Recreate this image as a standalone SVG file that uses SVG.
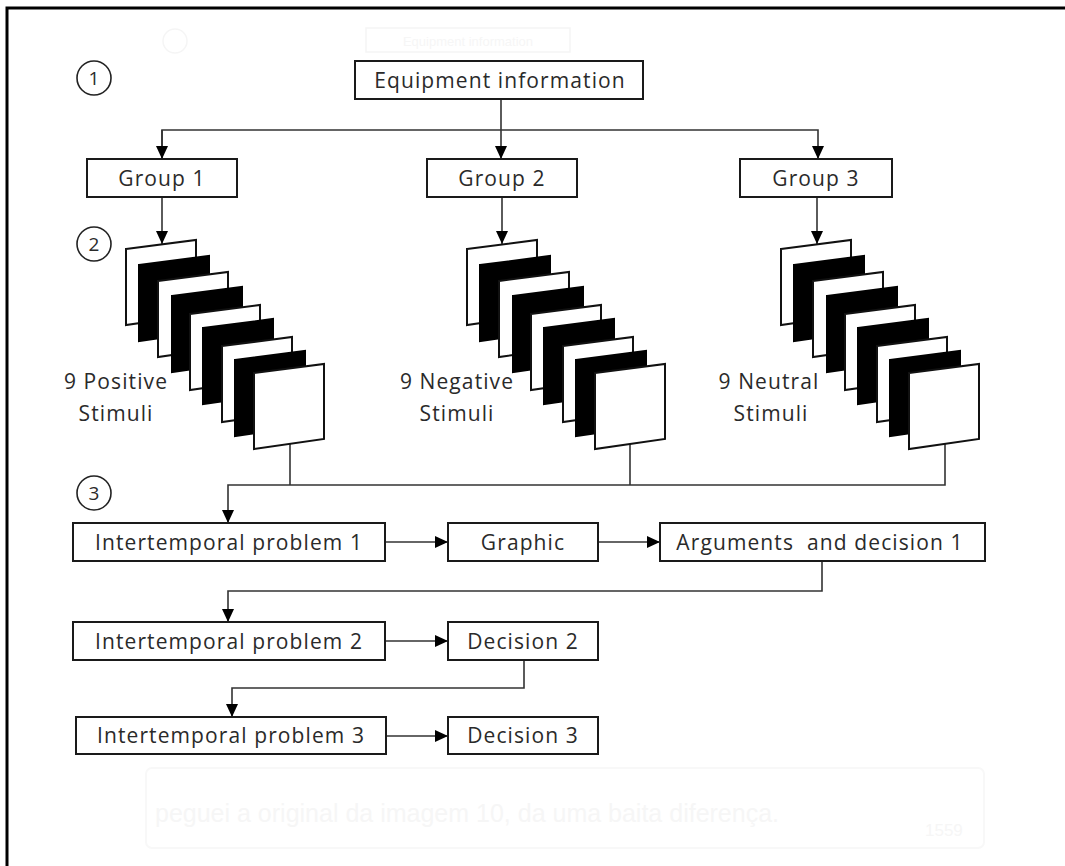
<svg xmlns="http://www.w3.org/2000/svg" width="1065" height="866" viewBox="0 0 1065 866">
<style>
.box{fill:#fff;stroke:#1a1a1a;stroke-width:2}
.lbl{font-family:"Open Sans","Noto Sans",sans-serif;font-size:21px;letter-spacing:1.1px;fill:#2a2a2a;text-anchor:middle}
.num{font-family:"Open Sans","Noto Sans",sans-serif;font-size:19px;fill:#2a2a2a;text-anchor:middle}
.ring{fill:#fff;stroke:#222;stroke-width:1.6}
.con{fill:none;stroke:#333;stroke-width:1.6}
.cw{fill:#fff;stroke:#111;stroke-width:2}
.cb{fill:#000;stroke:#000;stroke-width:2}
.ghost{font-family:"Liberation Sans",Arial,sans-serif;fill:#f6f6f6}
</style>
<defs>
<marker id="ah" markerUnits="userSpaceOnUse" markerWidth="14" markerHeight="12" refX="13" refY="6" orient="auto">
<path d="M0,0 L13,6 L0,12 Z" fill="#000"/>
</marker>
<path id="card" d="M0,0 L70,-9 L70,66 L0,76 Z"/>
<g id="stack">
<use href="#card" class="cw" x="126" y="249"/>
<use href="#card" class="cb" x="139" y="265"/>
<use href="#card" class="cw" x="158" y="281"/>
<use href="#card" class="cb" x="172" y="296"/>
<use href="#card" class="cw" x="190" y="314"/>
<use href="#card" class="cb" x="203" y="328"/>
<use href="#card" class="cw" x="222" y="346"/>
<use href="#card" class="cb" x="235" y="360"/>
<use href="#card" class="cw" x="254" y="373"/>
</g>
</defs>
<rect width="1065" height="866" fill="#fff"/>
<g id="ghost">
<rect x="146" y="768" width="838" height="80" rx="6" fill="none" stroke="#f8f8f8" stroke-width="2"/>
<text class="ghost" x="155" y="822" font-size="25">peguei a original da imagem 10, da uma baita diferença.</text>
<text class="ghost" x="925" y="836" font-size="17">1559</text>
<circle cx="175" cy="41" r="12" fill="none" stroke="#f5f5f5" stroke-width="1.5"/>
<rect x="366" y="28" width="204" height="24" fill="none" stroke="#f5f5f5" stroke-width="1.5"/>
<text class="ghost" x="468" y="46" font-size="13" text-anchor="middle">Equipment information</text>
</g>
<g id="frame">
<path d="M7,866 V8 H1065" fill="none" stroke="#000" stroke-width="3"/>
</g>
<g id="connectors">
<path class="con" d="M501,99 V159" marker-end="url(#ah)"/>
<path class="con" d="M162,159 V130 H818 V159" marker-end="url(#ah)"/>
<path class="con" d="M162,130 V159" marker-end="url(#ah)"/>
<path class="con" d="M162,197 V244" marker-end="url(#ah)"/>
<path class="con" d="M502,197 V244" marker-end="url(#ah)"/>
<path class="con" d="M817,197 V244" marker-end="url(#ah)"/>
<path class="con" d="M290,444 V485"/>
<path class="con" d="M630,444 V485"/>
<path class="con" d="M945,444 V485 H228 V523" marker-end="url(#ah)"/>
<path class="con" d="M385,542 H448" marker-end="url(#ah)"/>
<path class="con" d="M598,542 H660" marker-end="url(#ah)"/>
<path class="con" d="M822,561 V591 H228 V622" marker-end="url(#ah)"/>
<path class="con" d="M385,641 H448" marker-end="url(#ah)"/>
<path class="con" d="M524,660 V688 H232 V717" marker-end="url(#ah)"/>
<path class="con" d="M386,736 H448" marker-end="url(#ah)"/>
</g>
<g id="step1">
<circle class="ring" cx="94" cy="78" r="17"/>
<text class="num" x="94" y="85">1</text>
</g>
<g id="step2">
<circle class="ring" cx="94" cy="244" r="17"/>
<text class="num" x="94" y="251">2</text>
</g>
<g id="step3">
<circle class="ring" cx="94" cy="493" r="17"/>
<text class="num" x="94" y="500">3</text>
</g>
<g id="equipment">
<rect class="box" x="355" y="61" width="288" height="38"/>
<text class="lbl" x="500" y="88">Equipment information</text>
</g>
<g id="group1">
<rect class="box" x="87" y="159" width="150" height="38"/>
<text class="lbl" x="162" y="186">Group 1</text>
</g>
<g id="group2">
<rect class="box" x="427" y="159" width="150" height="38"/>
<text class="lbl" x="502" y="186">Group 2</text>
</g>
<g id="group3">
<rect class="box" x="740" y="159" width="152" height="38"/>
<text class="lbl" x="816" y="186">Group 3</text>
</g>
<g id="positive">
<use href="#stack"/>
<text class="lbl" x="116" y="389">9 Positive</text>
<text class="lbl" x="116" y="421">Stimuli</text>
</g>
<g id="negative">
<use href="#stack" x="341"/>
<text class="lbl" x="457" y="389">9 Negative</text>
<text class="lbl" x="457" y="421">Stimuli</text>
</g>
<g id="neutral">
<use href="#stack" x="655"/>
<text class="lbl" x="769" y="389">9 Neutral</text>
<text class="lbl" x="771" y="421">Stimuli</text>
</g>
<g id="ip1">
<rect class="box" x="73" y="523" width="312" height="38"/>
<text class="lbl" x="229" y="550">Intertemporal problem 1</text>
</g>
<g id="graphic">
<rect class="box" x="448" y="523" width="150" height="38"/>
<text class="lbl" x="523" y="550">Graphic</text>
</g>
<g id="args">
<rect class="box" x="660" y="523" width="325" height="38"/>
<text class="lbl" x="820" y="550" style="white-space:pre">Arguments  and decision 1</text>
</g>
<g id="ip2">
<rect class="box" x="73" y="622" width="312" height="38"/>
<text class="lbl" x="229" y="649">Intertemporal problem 2</text>
</g>
<g id="dec2">
<rect class="box" x="448" y="622" width="150" height="38"/>
<text class="lbl" x="523" y="649">Decision 2</text>
</g>
<g id="ip3">
<rect class="box" x="76" y="717" width="310" height="37"/>
<text class="lbl" x="231" y="743">Intertemporal problem 3</text>
</g>
<g id="dec3">
<rect class="box" x="448" y="717" width="150" height="37"/>
<text class="lbl" x="523" y="743">Decision 3</text>
</g>
</svg>
